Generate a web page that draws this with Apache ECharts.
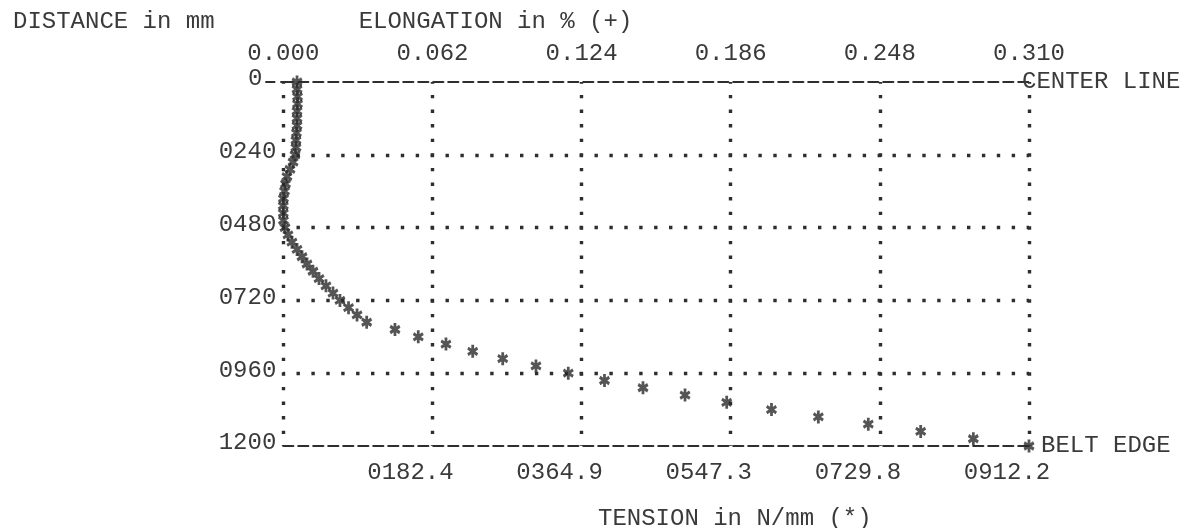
<!DOCTYPE html>
<html>
<head>
<meta charset="utf-8">
<script src="https://cdn.jsdelivr.net/npm/echarts@6/dist/echarts.min.js"></script>
<style>
html,body{margin:0;padding:0;background:#fff;}
#c{width:1190px;height:528px;}
</style>
</head>
<body>
<div id="c"></div>
<script>
// Distance from center line (mm)
const distance = [0,24,48,72,96,120,144,168,192,216,240,264,288,312,336,360,384,408,432,456,480,504,528,552,576,600,624,648,672,696,720,744,768,792,816,840,864,888,912,936,960,984,1008,1032,1056,1080,1104,1128,1152,1176,1200];
// Tension in N/mm (*)
const tension = [16.8,16.8,17.4,17.4,16.8,16.8,16.8,16.1,15.5,15.5,14.3,11.9,8.2,4.5,2.7,1.5,0.2,0,0,0.2,2.1,5.7,10.6,16.8,22.9,29.0,36.3,43.7,52.2,60.8,69.3,79.8,90.2,102.0,136.6,165.1,199.0,231.7,268.4,309.1,348.6,392.9,440.0,491.4,542.4,597.2,654.5,715.6,779.7,844.1,912.2];
// Tick labels
const elongationTicks = ['0.000','0.062','0.124','0.186','0.248','0.310'];
const tensionTicks = ['','0182.4','0364.9','0547.3','0729.8','0912.2'];
const distanceTicks = ['0','0240','0480','0720','0960','1200'];
const edgeLabels = ['CENTER LINE','BELT EDGE'];

const FONT = '"Liberation Mono", "DejaVu Sans Mono", monospace';
const TXT = '#3a3a3a';
const DOT = '#2e2e2e';
const dottedH = {color: DOT, width: 3.4, type: [3.4, 11.5], dashOffset: 1.7};
const dottedV = {color: DOT, width: 3.4, type: [3.4, 11.2], dashOffset: 1.7};
const dashed = {color: DOT, width: 2.2, type: [10, 5]};
const star = 'path://M-1.5,-6L1.5,-6L1.5,6L-1.5,6Z M-5.95,-1.7L-4.45,-4.3L5.95,1.7L4.45,4.3Z M4.45,-4.3L5.95,-1.7L-4.45,4.3L-5.95,1.7Z';

const chart = echarts.init(document.getElementById('c'));
const TMAX = 912.2, TINT = 182.44;

chart.setOption({
  backgroundColor: '#fff',
  animation: false,
  textStyle: {fontFamily: FONT, color: TXT},
  title: [
    {text: 'DISTANCE in mm          ELONGATION in % (+)', left: 8, top: 5,
     textStyle: {fontFamily: FONT, fontSize: 24, fontWeight: 'normal', color: TXT, lineHeight: 24}},
    {text: 'TENSION in N/mm (*)', left: 593, top: 502,
     textStyle: {fontFamily: FONT, fontSize: 24, fontWeight: 'normal', color: TXT, lineHeight: 24}}
  ],
  grid: {left: 283.3, right: 161, top: 82, bottom: 82, containLabel: false},
  xAxis: [
    {
      type: 'value', position: 'bottom', min: 0, max: TMAX, interval: TINT,
      axisLine: {show: true, onZero: false, lineStyle: dashed},
      axisTick: {show: false},
      splitLine: {show: true, lineStyle: dottedV, showMinLine: true, showMaxLine: true},
      axisLabel: {
        fontFamily: FONT, fontSize: 24, color: TXT, margin: 15, lineHeight: 24,
        padding: [0, 44, 0, 0],
        formatter: v => tensionTicks[Math.round(v / TINT)] || ''
      }
    },
    {
      type: 'value', position: 'top', min: 0, max: 0.31, interval: 0.062,
      axisLine: {show: true, onZero: false, lineStyle: dashed},
      axisTick: {show: false},
      splitLine: {show: false},
      axisLabel: {
        fontFamily: FONT, fontSize: 24, color: TXT, margin: 16, lineHeight: 24,
        formatter: v => elongationTicks[Math.round(v / 0.062)] || ''
      }
    }
  ],
  yAxis: [
    {
      type: 'value', inverse: true, min: 0, max: 1200, interval: 240,
      axisLine: {show: false, onZero: false},
      axisTick: {show: false},
      splitLine: {show: true, lineStyle: dottedH, showMinLine: false, showMaxLine: false},
      axisLabel: {
        fontFamily: FONT, fontSize: 24, color: TXT, margin: 7, lineHeight: 24,
        padding: [0, 0, 6, 0],
        formatter: v => {
          const i = Math.round(v / 240);
          return i === 0 ? '{z|' + distanceTicks[0] + '}' : distanceTicks[i];
        },
        rich: {z: {fontFamily: FONT, fontSize: 24, color: TXT, padding: [0, 14, 0, 0]}}
      }
    },
    {
      type: 'value', inverse: true, min: 0, max: 1200, interval: 1200, position: 'right',
      axisLine: {show: false, onZero: false},
      axisTick: {show: false},
      splitLine: {show: false},
      axisLabel: {
        fontFamily: FONT, fontSize: 24, color: TXT, margin: -7, lineHeight: 24, align: 'left',
        formatter: v => v === 0 ? edgeLabels[0] : '{b|' + edgeLabels[1] + '}',
        rich: {b: {fontFamily: FONT, fontSize: 24, color: TXT, padding: [0, 0, 0, 19]}}
      }
    }
  ],
  series: [{
    type: 'scatter',
    xAxisIndex: 0, yAxisIndex: 0,
    symbol: star,
    symbolSize: [11, 13],
    itemStyle: {color: '#2a2a2a'},
    clip: false,
    z: 5,
    data: distance.map((d, i) => [tension[i], d])
  }]
});

// short dashed lead-in left of the center line, after the "0" label
const yTop = chart.convertToPixel({yAxisIndex: 0}, 0);
const xLeft = chart.convertToPixel({xAxisIndex: 0}, 0);
chart.setOption({
  graphic: [{
    type: 'line', silent: true, z: 1,
    shape: {x1: xLeft - 18, y1: yTop, x2: xLeft, y2: yTop},
    style: {stroke: DOT, lineWidth: 2.2, lineDash: [10, 5]}
  }]
});
</script>
</body>
</html>
